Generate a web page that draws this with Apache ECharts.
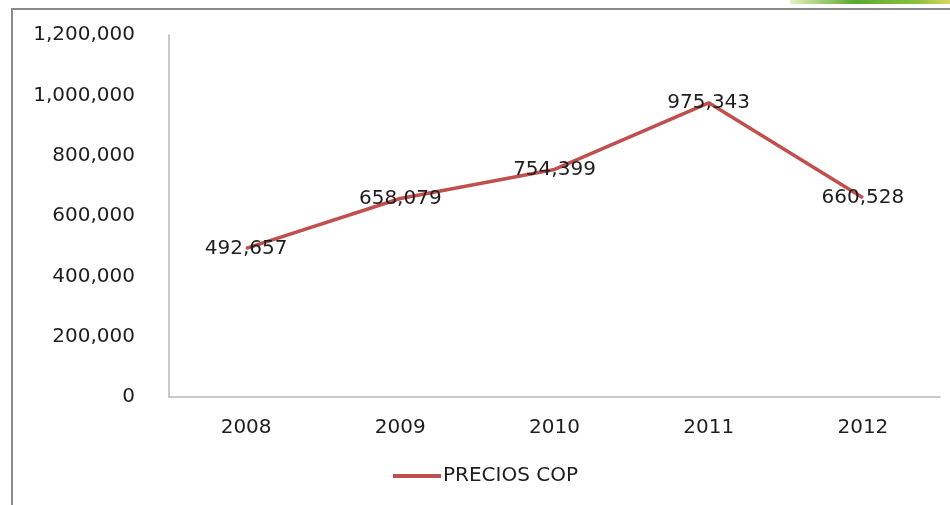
<!DOCTYPE html>
<html><head><meta charset="utf-8">
<script src="https://cdn.jsdelivr.net/npm/echarts@6/dist/echarts.min.js"></script>
<style>html,body{margin:0;padding:0;background:#fff}#c{width:950px;height:505px}</style>
</head><body><div id="c"></div>
<script>
var categories = ['2008','2009','2010','2011','2012'];
var precios = [492657, 658079, 754399, 975343, 660528];
var seriesName = 'PRECIOS COP';
var yTicks = {min:0, max:1200000, interval:200000};

var fmt = function(v){ return Number(v).toLocaleString('en-US'); };
var font = 'DejaVu Sans';
var fs = 20;
var chart = echarts.init(document.getElementById('c'));
chart.setOption({
  animation:false,
  backgroundColor:'#fff',
  graphic:[
    {type:'rect', shape:{x:12,y:9,width:960,height:520}, style:{fill:'none', stroke:'#8a8a8a', lineWidth:2}, silent:true},
    {type:'rect', shape:{x:790,y:0,width:160,height:4}, style:{fill:new echarts.graphic.LinearGradient(0,0,1,0,[{offset:0,color:'#e8f0c0'},{offset:0.4,color:'#5aa832'},{offset:0.8,color:'#8cc23c'},{offset:1,color:'#d8d860'}])}, silent:true}
  ],
  grid:{left:169, right:10, top:35, bottom:108, containLabel:false},
  legend:{bottom:14, left:388, itemWidth:48, itemHeight:4, itemGap:4,
    icon:'rect',
    textStyle:{fontFamily:font, fontSize:fs, color:'#1e1e1e', padding:[0,0,0,-3]}, data:[seriesName]},
  xAxis:{type:'category', data:categories, boundaryGap:true,
    axisLine:{lineStyle:{color:'#b8b8b8', width:1.5}},
    axisTick:{show:false},
    axisLabel:{fontFamily:font, fontSize:fs, color:'#1e1e1e', margin:21}},
  yAxis:{type:'value', min:yTicks.min, max:yTicks.max, interval:yTicks.interval,
    axisLine:{show:true, lineStyle:{color:'#b8b8b8', width:1.5}},
    axisTick:{show:false}, splitLine:{show:false},
    axisLabel:{fontFamily:font, fontSize:fs, color:'#1e1e1e', margin:34, formatter:fmt}},
  series:[{name:seriesName, type:'line', data:precios, symbol:'circle', symbolSize:1, showSymbol:true,
    lineStyle:{color:'#c0504d', width:3.5}, itemStyle:{color:'#c0504d'},
    label:{show:true, position:'inside', fontFamily:font, fontSize:fs, color:'#1e1e1e', formatter:function(p){return fmt(p.value);}}}]
});
</script></body></html>
